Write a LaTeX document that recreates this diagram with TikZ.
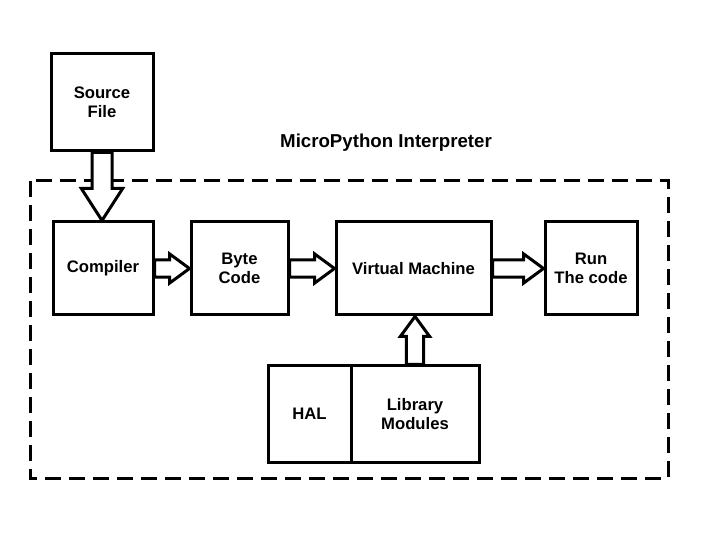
\documentclass[tikz,border=0pt]{standalone}
\usepackage{fontspec}
\setmainfont{Liberation Sans}
\usetikzlibrary{calc}
\tikzset{every picture/.style={line width=2.25pt}}
\tikzset{
  box/.style={draw, fill=white, font=\bfseries\fontsize{12.5}{14.5}\selectfont, align=center, inner sep=0pt},
  blockarrow/.style={draw, fill=white, line width=2.25pt, line join=miter}
}
% block arrows between two named nodes
\newcommand\harrow[2]{\draw[blockarrow] let \p1=(#1.east), \p2=(#2.west) in (\x1,\y1+6.5) -- (\x2-15,\y1+6.5) -- (\x2-15,\y1+11) -- (\x2,\y1) -- (\x2-15,\y1-11) -- (\x2-15,\y1-6.5) -- (\x1,\y1-6.5) -- cycle;}
% arguments: from, to, shaft half width, head half width, head length (signed)
\newcommand\varrow[5]{\draw[blockarrow] let \p1=(#1), \p2=(#2) in (\x1+#3,\y1) -- (\x1+#3,\y2+#5) -- (\x1+#4,\y2+#5) -- (\x1,\y2) -- (\x1-#4,\y2+#5) -- (\x1-#3,\y2+#5) -- (\x1-#3,\y1) -- cycle;}

\begin{document}
\begin{tikzpicture}[x=0.75pt,y=0.75pt,yscale=-1,xscale=1]
        \path (0,0) rectangle (724,548);

        % dashed frame
        \draw [dash pattern=on 12pt off 6pt] (30,181) rectangle (668,478);
        \node (title) at (386,143) {\bfseries\fontsize{14}{16}\selectfont MicroPython Interpreter};

        % boxes
        \node [box, minimum width=76.5pt, minimum height=72.75pt] (src) at (102,102.5) {Source\\File};
        \node [box, minimum width=75pt, minimum height=69.75pt] (comp) at (103,268.5) {Compiler};
        \node [box, minimum width=72.75pt, minimum height=69.75pt] (byte) at (239.5,268.5) {Byte\\Code};
        \node [box, minimum width=116.25pt, minimum height=69.75pt] (vm) at (413.5,268.5) {Virtual Machine};
        \node [box, minimum width=69pt, minimum height=69.75pt] (run) at (591,268.5) {Run\\The code};
        \node [box, minimum width=62.25pt, minimum height=72pt] (hal) at (309.5,414) {HAL};
        \node [box, minimum width=96pt, minimum height=72pt] (lib) at (415,414) {Library\\Modules};

        % arrows
        \varrow{src.south}{comp.north}{7.5}{15.5}{-24}
        \harrow{comp}{byte}
        \harrow{byte}{vm}
        \harrow{vm}{run}
        \varrow{lib.north}{vm.south}{6.5}{11}{15}

\end{tikzpicture}
\end{document}
